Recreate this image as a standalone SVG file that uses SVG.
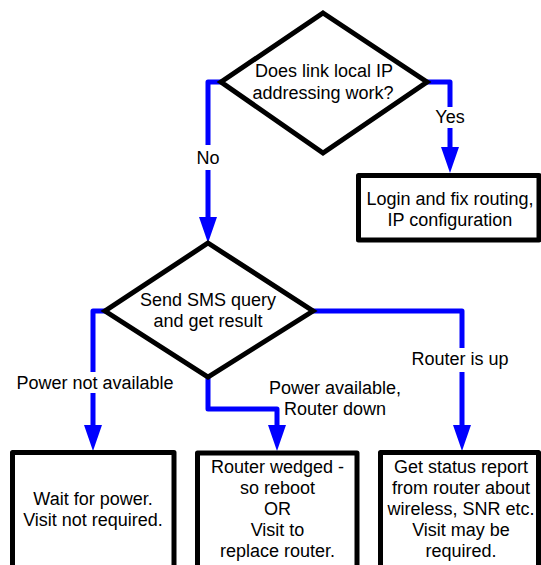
<svg xmlns="http://www.w3.org/2000/svg" width="541" height="565" viewBox="0 0 541 565">
  <style>
    .shape { fill: #ffffff; stroke: #000000; stroke-width: 5; }
    .box { stroke-linejoin: round; }
    .diamond { stroke-linejoin: miter; }
    .conn { fill: none; stroke: #0000ff; stroke-width: 5; stroke-linejoin: round; }
    .gap { fill: #ffffff; stroke: none; }
    text { font-family: "Liberation Sans", Arial, sans-serif; font-size: 18px; fill: #000000; text-anchor: middle; }
  </style>
  <defs>
    <marker id="arrow" markerUnits="userSpaceOnUse" markerWidth="26" markerHeight="18" refX="0" refY="9" orient="auto" viewBox="0 0 26 18">
      <path d="M0,0 L26,9 L0,18 Z" fill="#0000ff"/>
    </marker>
  </defs>
  <rect width="541" height="565" fill="#ffffff"/>

  <!-- connectors -->
  <g id="connectors">
    <path class="conn" d="M222,82 H208 V217" marker-end="url(#arrow)"/>
    <path class="conn" d="M426,82 H450 V147" marker-end="url(#arrow)"/>
    <path class="conn" d="M106,311 H93 V425" marker-end="url(#arrow)"/>
    <path class="conn" d="M208,377 V409 H277 V425" marker-end="url(#arrow)"/>
    <path class="conn" d="M312,311 H462 V425" marker-end="url(#arrow)"/>
    <!-- label backdrops -->
    <rect class="gap" x="195" y="145" width="26" height="25"/>
    <rect class="gap" x="432" y="107" width="36" height="21"/>
    <rect class="gap" x="16" y="372" width="160" height="21"/>
    <rect class="gap" x="410" y="348" width="100" height="24"/>
  </g>

  <!-- connector labels -->
  <g id="labels">
    <text x="208" y="164">No</text>
    <text x="450" y="123">Yes</text>
    <text x="95" y="389">Power not available</text>
    <text x="335" y="394">Power available,</text>
    <text x="335" y="415">Router down</text>
    <text x="460" y="365">Router is up</text>
  </g>

  <g id="q-linklocal">
    <polygon class="shape diamond" points="323,13 427,82 323,153 221,82"/>
    <text x="324" y="77">Does link local IP</text>
    <text x="323" y="98.5">addressing work?</text>
  </g>

  <g id="fix-routing">
    <rect class="shape box" x="358.5" y="175.5" width="180.5" height="64.5"/>
    <text x="450" y="205">Login and fix routing,</text>
    <text x="450" y="225.5">IP configuration</text>
  </g>

  <g id="q-sms">
    <polygon class="shape diamond" points="208,243 313,311 208,377 105,311"/>
    <text x="208" y="305.5">Send SMS query</text>
    <text x="208" y="327">and get result</text>
  </g>

  <g id="wait-power">
    <rect class="shape box" x="12.5" y="452.5" width="161.5" height="130"/>
    <text x="93" y="505">Wait for power.</text>
    <text x="93" y="526">Visit not required.</text>
  </g>

  <g id="router-wedged">
    <rect class="shape box" x="197.5" y="453" width="159.5" height="130"/>
    <text x="277.5" y="472.5">Router wedged -</text>
    <text x="277.5" y="493.5">so reboot</text>
    <text x="277.5" y="514.5">OR</text>
    <text x="277.5" y="535.5">Visit to</text>
    <text x="277.5" y="556.5">replace router.</text>
  </g>

  <g id="status-report">
    <rect class="shape box" x="380.5" y="452.5" width="158" height="130"/>
    <text x="461" y="472.5">Get status report</text>
    <text x="461" y="493.5">from router about</text>
    <text x="461" y="514.5">wireless, SNR etc.</text>
    <text x="461" y="535.5">Visit may be</text>
    <text x="461" y="556.5">required.</text>
  </g>
</svg>
